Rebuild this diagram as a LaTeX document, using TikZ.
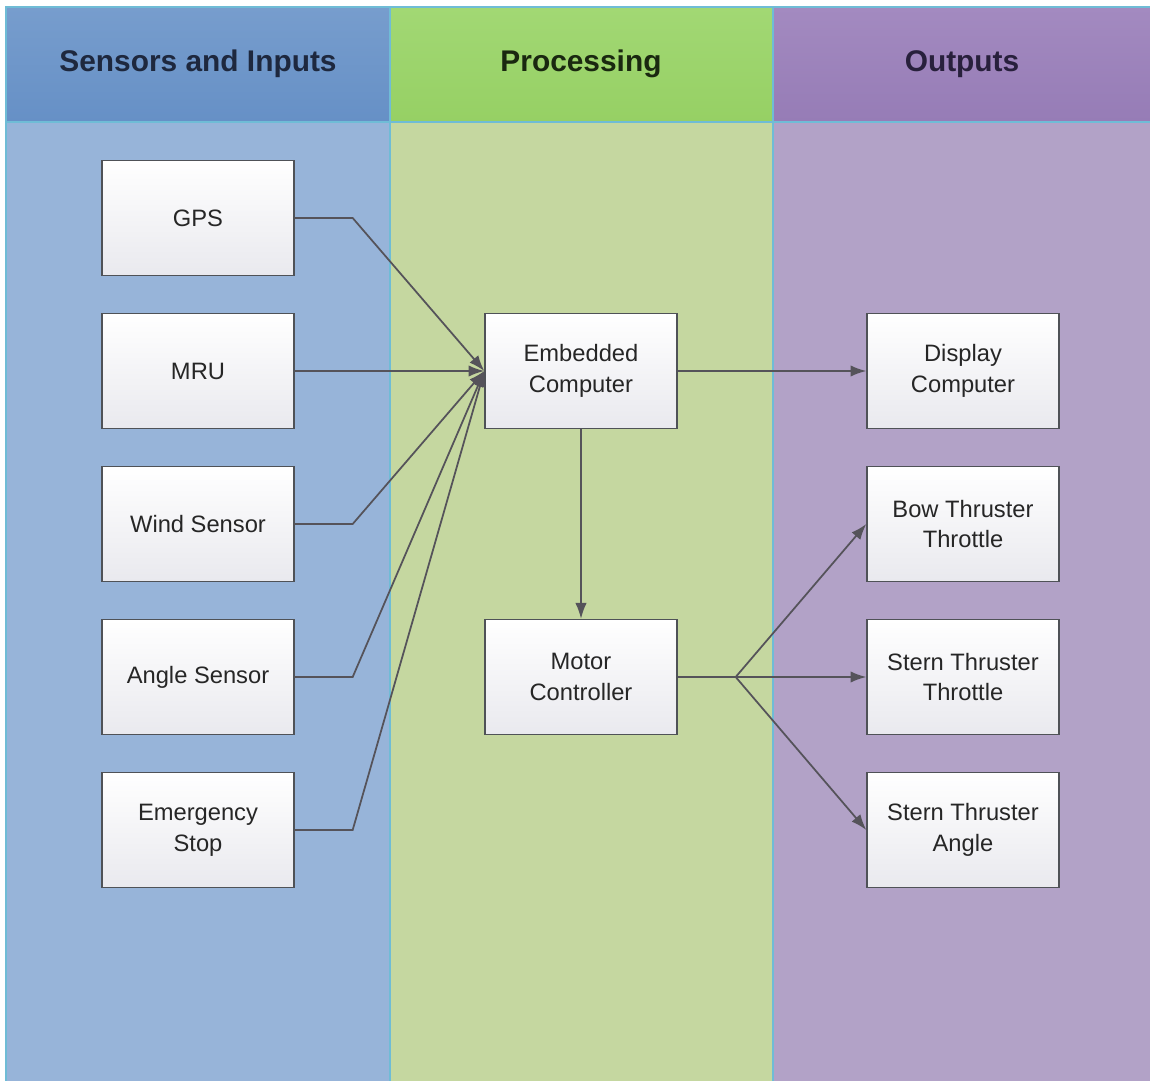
\documentclass[tikz,border=0pt]{standalone}
\usepackage{fontspec}
\setmainfont{Liberation Sans}
\usetikzlibrary{arrows.meta}
\definecolor{bluehdT}{HTML}{779DCD}
\definecolor{bluehdB}{HTML}{6690C6}
\definecolor{bluebody}{HTML}{97B4D9}
\definecolor{greenhdT}{HTML}{A2D874}
\definecolor{greenhdB}{HTML}{96D064}
\definecolor{greenbody}{HTML}{C5D7A0}
\definecolor{purphdT}{HTML}{A38AC0}
\definecolor{purphdB}{HTML}{967CB6}
\definecolor{purpbody}{HTML}{B2A2C7}
\definecolor{sepc}{HTML}{6FBCD6}
\definecolor{boxline}{HTML}{4F5257}
\definecolor{boxbot}{HTML}{E9E9EE}
\definecolor{linec}{HTML}{55535A}
\definecolor{textc}{HTML}{262626}
\begin{document}
\begin{tikzpicture}[x=0.02cm,y=-0.02cm,
  box/.style={draw=boxline, line width=0.8pt, top color=white, bottom color=boxbot,
    minimum width=3.84cm, minimum height=2.3cm, inner sep=0pt, align=center,
    font=\fontsize{13.5}{17.6}\selectfont, text=textc},
  hdr/.style={font=\fontsize{17}{20}\selectfont\bfseries},
  conn/.style={draw=linec, line width=1pt},
  arr/.style={conn, -{Latex[length=9pt,width=6.5pt]}},
  colframe/.style={draw=sepc, line width=0.6pt}]
\useasboundingbox (0,0) rectangle (1150,1081);
\fill[white] (0,0) rectangle (1150,1081);
% columns
\fill[bluebody] (6,122) rectangle (390,1081);
\fill[greenbody] (390,122) rectangle (773,1081);
\fill[purpbody] (773,122) rectangle (1150,1081);
\shade[top color=bluehdT, bottom color=bluehdB] (6,7) rectangle (390,122);
\shade[top color=greenhdT, bottom color=greenhdB] (390,7) rectangle (773,122);
\shade[top color=purphdT, bottom color=purphdB] (773,7) rectangle (1150,122);
\draw[colframe] (6,1081) -- (6,7) -- (1150,7);
\draw[colframe] (6,122) -- (1150,122);
\draw[colframe] (390,7) -- (390,1081);
\draw[colframe] (773,7) -- (773,1081);
\node[hdr, text={rgb,255:red,30;green,40;blue,62}] (h1) at (198,64) {Sensors and Inputs};
\node[hdr, text={rgb,255:red,26;green,40;blue,16}] (h2) at (581,64) {Processing};
\node[hdr, text={rgb,255:red,40;green,32;blue,60}] (h3) at (962,64) {Outputs};
% nodes
\node[box] (gps) at (198,218) {GPS};
\node[box] (mru) at (198,371) {MRU};
\node[box] (wind) at (198,524) {Wind Sensor};
\node[box] (angle) at (198,677) {Angle Sensor};
\node[box] (estop) at (198,830) {Emergency\\Stop};
\node[box] (emb) at (581,371) {Embedded\\Computer};
\node[box] (motor) at (581,677) {Motor\\Controller};
\node[box] (disp) at (963,371) {Display\\Computer};
\node[box] (bow) at (963,524) {Bow Thruster\\Throttle};
\node[box] (sthr) at (963,677) {Stern Thruster\\Throttle};
\node[box] (sang) at (963,830) {Stern Thruster\\Angle};
% connectors
\draw[arr] (gps.east) -- ++(58,0) -- (emb.west);
\draw[arr] (mru.east) -- (emb.west);
\draw[arr] (wind.east) -- ++(58,0) -- (emb.west);
\draw[arr] (angle.east) -- ++(58,0) -- (emb.west);
\draw[arr] (estop.east) -- ++(58,0) -- (emb.west);
\draw[arr] (emb.east) -- (disp.west);
\draw[arr] (emb.south) -- (motor.north);
\draw[conn] (motor.east) -- ++(58,0) coordinate (fan);
\draw[arr] (fan) -- (bow.west);
\draw[arr] (fan) -- (sthr.west);
\draw[arr] (fan) -- (sang.west);
\end{tikzpicture}
\end{document}
